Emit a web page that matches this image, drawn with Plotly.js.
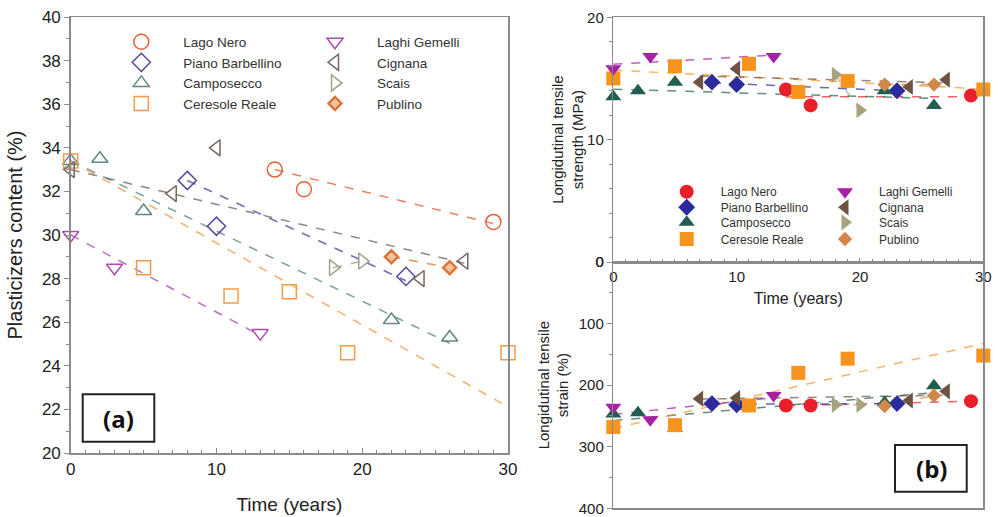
<!DOCTYPE html>
<html><head><meta charset="utf-8">
<script src="https://cdn.plot.ly/plotly-3.0.1.min.js"></script>
<style>html,body{margin:0;padding:0;background:#fff}#chart{width:998px;height:517px}</style>
</head><body><div id="chart"></div>
<script>
// ---------------- DATA ----------------
const siteNames = ['Lago Nero','Piano Barbellino','Camposecco','Ceresole Reale','Laghi Gemelli','Cignana','Scais','Publino'];

const yearsLagoNero = [14, 16, 29];
const yearsPianoBarbellino = [8, 10, 23];
const yearsCamposecco = [0, 2, 5, 22, 26];
const yearsCeresoleReale = [0, 5, 11, 15, 19, 30];
const yearsLaghiGemelli = [0, 3, 13];
const yearsCignanaA = [0, 7, 10, 24, 27];
const yearsCignanaB = [7, 10, 24, 27];
const yearsScais = [18, 20];
const yearsPublino = [22, 26];

// (a) plasticizers content (%)
const plastLagoNero = [33.0, 32.1, 30.6];
const plastPianoBarbellino = [32.5, 30.4, 28.1];
const plastCamposecco = [33.4, 33.5, 31.1, 26.1, 25.3];
const plastCeresoleReale = [33.4, 28.5, 27.2, 27.4, 24.6, 24.6];
const plastLaghiGemelli = [30.0, 28.5, 25.5];
const plastCignana = [33.0, 31.9, 34.0, 28.0, 28.8];
const plastScais = [28.5, 28.8];
const plastPublino = [29.0, 28.5];

// (b) longitudinal tensile strength (MPa)
const tensLagoNero = [14.1, 12.8, 13.6];
const tensPianoBarbellino = [14.7, 14.5, 14.0];
const tensCamposecco = [13.5, 14.0, 14.7, 14.0, 12.8];
const tensCeresoleReale = [15.0, 16.0, 16.2, 13.9, 14.8, 14.1];
const tensLaghiGemelli = [15.8, 16.8, 16.8];
const tensCignana = [14.7, 15.8, 14.3, 14.9];
const tensScais = [15.3, 12.4];
const tensPublino = [14.5, 14.5];

// (b) longitudinal tensile strain (%)
const strainLagoNero = [233, 233, 226];
const strainPianoBarbellino = [230, 232, 230];
const strainCamposecco = [247, 245, 270, 228, 201];
const strainCeresoleReale = [268, 265, 233, 180, 157, 152];
const strainLaghiGemelli = [236, 256, 217];
const strainCignana = [222, 221, 225, 210];
const strainScais = [232, 232];
const strainPublino = [234, 217];

const ticksPlast = [20, 22, 24, 26, 28, 30, 32, 34, 36, 38, 40];
const ticksYears = [0, 10, 20, 30];
const ticksStrength = [0, 10, 20];
const ticksStrain = [0, 100, 200, 300, 400];

// ---------------- STYLE ----------------
const W = 998, H = 517;
const px = v => v / W, py = v => 1 - v / H;
const FONT = 'Liberation Sans, Arial, sans-serif';

const styleA = {
  'Lago Nero':        {c:'#e8613a', s:'circle-open', z:15},
  'Piano Barbellino': {c:'#5647a6', s:'diamond-open', z:14},
  'Camposecco':       {c:'#5f8783', s:'triangle-up-open', z:14},
  'Ceresole Reale':   {c:'#f39a45', s:'square-open', z:14},
  'Laghi Gemelli':    {c:'#b04bae', s:'triangle-down-open', z:14},
  'Cignana':          {c:'#7a6760', s:'triangle-left-open', z:14},
  'Scais':            {c:'#a3a08a', s:'triangle-right-open', z:14},
  'Publino':          {c:'#d9773a', s:'diamond', z:10, fill:'#f3c49a'}
};
const styleB = {
  'Lago Nero':        {c:'#e8202a', s:'circle', z:14},
  'Piano Barbellino': {c:'#2b2b9e', s:'diamond', z:13},
  'Camposecco':       {c:'#1f5e50', s:'triangle-up', z:14},
  'Ceresole Reale':   {c:'#f7941d', s:'square', z:14},
  'Laghi Gemelli':    {c:'#a61fa4', s:'triangle-down', z:14},
  'Cignana':          {c:'#6e5242', s:'triangle-left', z:14},
  'Scais':            {c:'#a8a27f', s:'triangle-right', z:14},
  'Publino':          {c:'#d2874a', s:'diamond', z:11}
};

const seriesA = [
  ['Lago Nero', yearsLagoNero, plastLagoNero],
  ['Piano Barbellino', yearsPianoBarbellino, plastPianoBarbellino],
  ['Camposecco', yearsCamposecco, plastCamposecco],
  ['Ceresole Reale', yearsCeresoleReale, plastCeresoleReale],
  ['Laghi Gemelli', yearsLaghiGemelli, plastLaghiGemelli],
  ['Cignana', yearsCignanaA, plastCignana],
  ['Scais', yearsScais, plastScais],
  ['Publino', yearsPublino, plastPublino]
];
const seriesTens = [
  ['Lago Nero', yearsLagoNero, tensLagoNero],
  ['Piano Barbellino', yearsPianoBarbellino, tensPianoBarbellino],
  ['Camposecco', yearsCamposecco, tensCamposecco],
  ['Ceresole Reale', yearsCeresoleReale, tensCeresoleReale],
  ['Laghi Gemelli', yearsLaghiGemelli, tensLaghiGemelli],
  ['Cignana', yearsCignanaB, tensCignana],
  ['Scais', yearsScais, tensScais],
  ['Publino', yearsPublino, tensPublino]
];
const seriesStrain = [
  ['Lago Nero', yearsLagoNero, strainLagoNero],
  ['Piano Barbellino', yearsPianoBarbellino, strainPianoBarbellino],
  ['Camposecco', yearsCamposecco, strainCamposecco],
  ['Ceresole Reale', yearsCeresoleReale, strainCeresoleReale],
  ['Laghi Gemelli', yearsLaghiGemelli, strainLaghiGemelli],
  ['Cignana', yearsCignanaB, strainCignana],
  ['Scais', yearsScais, strainScais],
  ['Publino', yearsPublino, strainPublino]
];

// trend lines
function anchoredFit(xs, ys) {
  const x0 = xs[0], y0 = ys[0];
  let sxy = 0, sxx = 0;
  for (let i = 1; i < xs.length; i++) { sxy += (xs[i]-x0)*(ys[i]-y0); sxx += (xs[i]-x0)*(xs[i]-x0); }
  const k = sxx ? sxy/sxx : 0;
  const x1 = Math.max(...xs);
  return {x:[x0, x1], y:[y0, y0 + k*(x1-x0)]};
}
function olsFit(xs, ys) {
  const n = xs.length;
  const mx = xs.reduce((a,b)=>a+b,0)/n, my = ys.reduce((a,b)=>a+b,0)/n;
  let sxy = 0, sxx = 0;
  for (let i = 0; i < n; i++) { sxy += (xs[i]-mx)*(ys[i]-my); sxx += (xs[i]-mx)*(xs[i]-mx); }
  const k = sxx ? sxy/sxx : 0;
  const x0 = Math.min(...xs), x1 = Math.max(...xs);
  return {x:[x0, x1], y:[my + k*(x0-mx), my + k*(x1-mx)]};
}

const traces = [];
// lines first (under markers)
seriesA.forEach(([name, xs, ys]) => {
  const f = anchoredFit(xs, ys);
  traces.push({type:'scatter', mode:'lines', x:f.x, y:f.y, xaxis:'x', yaxis:'y', showlegend:false, hoverinfo:'skip',
    opacity:0.8, line:{color:styleA[name].c, width:1.5, dash:'dash'}});
});
seriesTens.forEach(([name, xs, ys]) => {
  const f = olsFit(xs, ys);
  traces.push({type:'scatter', mode:'lines', x:f.x, y:f.y, xaxis:'x2', yaxis:'y2', showlegend:false, hoverinfo:'skip',
    opacity:0.7, line:{color:styleB[name].c, width:1.5, dash:'dash'}});
});
seriesStrain.forEach(([name, xs, ys]) => {
  const f = olsFit(xs, ys);
  traces.push({type:'scatter', mode:'lines', x:f.x, y:f.y, xaxis:'x3', yaxis:'y3', showlegend:false, hoverinfo:'skip',
    opacity:0.7, line:{color:styleB[name].c, width:1.5, dash:'dash'}});
});
// markers
seriesA.forEach(([name, xs, ys], i) => {
  const st = styleA[name];
  const m = st.fill ? {symbol:st.s, size:st.z, color:st.fill, line:{color:st.c, width:2.5}}
                    : {symbol:st.s, size:st.z, color:st.c, line:{width:1.5}};
  traces.push({type:'scatter', mode:'markers', name:name, x:xs, y:ys, xaxis:'x', yaxis:'y', cliponaxis:false,
    legend: i < 4 ? 'legend' : 'legend2', marker:m});
});
seriesTens.forEach(([name, xs, ys], i) => {
  const st = styleB[name];
  traces.push({type:'scatter', mode:'markers', name:name, x:xs, y:ys, xaxis:'x2', yaxis:'y2', cliponaxis:false,
    legend: 'legend' + (3 + i), marker:{symbol:st.s, size:st.z, color:st.c, line:{width:0}}});
});
seriesStrain.forEach(([name, xs, ys]) => {
  const st = styleB[name];
  traces.push({type:'scatter', mode:'markers', name:name, x:xs, y:ys, xaxis:'x3', yaxis:'y3', showlegend:false, cliponaxis:false,
    marker:{symbol:st.s, size:st.z, color:st.c, line:{width:0}}});
});

const frame = '#8a8a8a', tickTxt = '#222';
const layout = {
  width: W, height: H, margin:{l:0, r:0, t:0, b:0}, paper_bgcolor:'#fff', plot_bgcolor:'#fff',
  font:{family:FONT, color:tickTxt},
  xaxis:{domain:[px(70.7), px(508)], anchor:'y', range:[0,30], tickvals:ticksYears, showgrid:false, zeroline:false,
    showline:true, mirror:true, linecolor:frame, linewidth:1.5, ticks:'inside', ticklen:5, tickcolor:frame,
    minor:{dtick:1, ticks:'inside', ticklen:3, tickcolor:frame},
    tickfont:{size:17, color:tickTxt}, title:{text:'Time (years)', font:{size:19, color:tickTxt}, standoff:20}},
  yaxis:{domain:[py(453), py(17)], anchor:'x', range:[20,40], tickvals:ticksPlast, showgrid:false, zeroline:false,
    showline:true, mirror:true, linecolor:frame, linewidth:1.5, ticks:'outside', ticklen:5, tickcolor:frame,
    minor:{dtick:1, ticks:'outside', ticklen:3, tickcolor:frame},
    tickfont:{size:17, color:tickTxt}, title:{text:'Plasticizers content (%)', font:{size:20, color:tickTxt}, standoff:14}},
  xaxis2:{domain:[px(613.3), px(983.3)], anchor:'y2', range:[0,30], tickvals:ticksYears, showgrid:false, zeroline:false,
    showline:true, mirror:true, linecolor:frame, linewidth:1.5, ticks:'inside', ticklen:4, tickcolor:frame,
    minor:{dtick:1, ticks:'inside', ticklen:3, tickcolor:frame},
    tickfont:{size:15, color:tickTxt}, title:{text:'Time (years)', font:{size:16, color:tickTxt}, standoff:9}},
  yaxis2:{domain:[py(262), py(17.3)], anchor:'x2', range:[0,20], tickvals:ticksStrength, showgrid:false, zeroline:false,
    showline:true, mirror:true, linecolor:frame, linewidth:1.5, ticks:'outside', ticklen:5, tickcolor:frame,
    minor:{dtick:2, ticks:'outside', ticklen:3, tickcolor:frame},
    tickfont:{size:15, color:tickTxt}, title:{text:'Longidutinal tensile<br>strength (MPa)', font:{size:15, color:tickTxt}, standoff:0}},
  xaxis3:{domain:[px(613.3), px(983.3)], anchor:'y3', matches:'x2', range:[0,30], showticklabels:false, showgrid:false, zeroline:false,
    showline:true, mirror:true, linecolor:frame, linewidth:1.5, ticks:''},
  yaxis3:{domain:[py(508.3), py(262)], anchor:'x3', range:[400,0], tickvals:ticksStrain, showgrid:false, zeroline:false,
    showline:true, mirror:true, linecolor:frame, linewidth:1.5, ticks:'outside', ticklen:5, tickcolor:frame,
    minor:{dtick:50, ticks:'outside', ticklen:3, tickcolor:frame},
    tickfont:{size:15, color:tickTxt}, title:{text:'Longidutinal tensile<br>strain (%)', font:{size:15, color:tickTxt}, standoff:6}},
  legend: {x:px(141.3-42), xanchor:'left', y:py(26.5), yanchor:'top', bgcolor:'rgba(0,0,0,0)', borderwidth:0,
    itemwidth:74, font:{size:13.5, color:'#333'}, tracegroupgap:0},
  legend2:{x:px(335-42), xanchor:'left', y:py(26.5), yanchor:'top', bgcolor:'rgba(0,0,0,0)', borderwidth:0,
    itemwidth:74, font:{size:13.5, color:'#333'}, tracegroupgap:0},
  shapes:[
    {type:'rect', xref:'paper', yref:'paper', x0:px(82.7), x1:px(154.3), y0:py(441.7), y1:py(394.3), line:{color:'#222', width:2}},
    {type:'rect', xref:'paper', yref:'paper', x0:px(895), x1:px(966.7), y0:py(491.7), y1:py(445), line:{color:'#222', width:2}}
  ],
  annotations:[
    {xref:'paper', yref:'paper', x:px(118.5), y:py(418), xanchor:'center', yanchor:'middle', text:'<b>(a)</b>', showarrow:false, font:{family:'Open Sans, sans-serif', size:24, color:'#111'}},
    {xref:'paper', yref:'paper', x:px(931), y:py(468), xanchor:'center', yanchor:'middle', text:'<b>(b)</b>', showarrow:false, font:{family:'Open Sans, sans-serif', size:24, color:'#111'}}
  ]
};
// per-entry legends for panel (b)
const rowsB = [191.7, 207.3, 222.3, 239];
for (let i = 0; i < 8; i++) {
  const col = i < 4 ? 0 : 1, row = i % 4;
  layout['legend' + (3 + i)] = {x:px((col ? 845 : 686.7) - 34), xanchor:'left', y:py(rowsB[row] - 14.5), yanchor:'top',
    bgcolor:'rgba(0,0,0,0)', borderwidth:0, itemwidth:58, font:{size:12, color:'#333'}};
}

Plotly.newPlot('chart', traces, layout, {displayModeBar:false, staticPlot:true});
</script></body></html>
